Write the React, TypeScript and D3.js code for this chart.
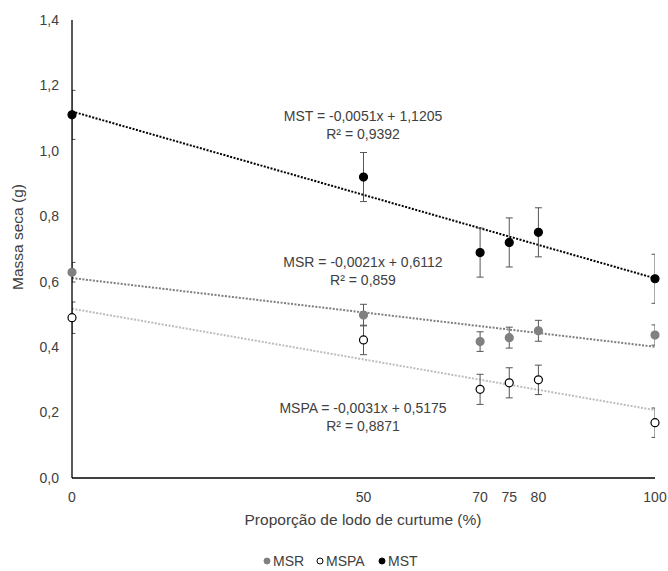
import * as d3 from "d3";

const doses = [0, 50, 70, 75, 80, 100];

const msr = [0.629, 0.498, 0.417, 0.429, 0.45, 0.437];
const msrErr = [0.03, 0.033, 0.03, 0.032, 0.032, 0.031];

const mspa = [0.49, 0.422, 0.271, 0.291, 0.3, 0.169];
const mspaErr = [0.048, 0.045, 0.046, 0.046, 0.045, 0.045];

const mst = [1.11, 0.92, 0.689, 0.72, 0.751, 0.609];
const mstErr = [0.075, 0.075, 0.075, 0.075, 0.075, 0.075];

const yTicks = [0, 0.2, 0.4, 0.6, 0.8, 1.0, 1.2, 1.4];

const series = [
  { name: "MSR", values: msr, err: msrErr, a: -0.0021, b: 0.6112, r2: "0,859", eq: "MSR = -0,0021x + 0,6112", fill: "#808080", stroke: "#808080", line: "#7f7f7f", labelY: 262 },
  { name: "MSPA", values: mspa, err: mspaErr, a: -0.0031, b: 0.5175, r2: "0,8871", eq: "MSPA = -0,0031x + 0,5175", fill: "#ffffff", stroke: "#000000", line: "#bdbdbd", labelY: 408 },
  { name: "MST", values: mst, err: mstErr, a: -0.0051, b: 1.1205, r2: "0,9392", eq: "MST = -0,0051x + 1,1205", fill: "#000000", stroke: "#000000", line: "#000000", labelY: 116 },
];

const width = 668;
const height = 571;
const fmt = (v: number) => d3.format(".1f")(v).replace(".", ",");

export default function App() {
  const x = d3.scaleLinear([0, 100], [72, 655]);
  const y = d3.scaleLinear([0, 1.4], [478, 20]);
  const line = d3.line<[number, number]>((d) => x(d[0]), (d) => y(d[1]));
  const txt = "#404040";
  const font = "'Liberation Sans', Arial, sans-serif";

  return (
    <svg width={width} height={height} style={{ position: "absolute", left: 0, top: 0 }} fontFamily={font}>
      <rect width={width} height={height} fill="#fff" />
      <defs>
        <clipPath id="plot">
          <rect x={x(0)} y={0} width={x(100) - x(0)} height={y(0)} />
        </clipPath>
      </defs>

      {/* trend lines */}
      {series.map((s) => (
        <path key={"t" + s.name}
          d={line([0, 100].map((v) => [v, s.a * v + s.b] as [number, number])) ?? ""}
          fill="none" stroke={s.line} strokeWidth={2} strokeDasharray="2,1.5" />
      ))}

      {/* error bars */}
      <g clipPath="url(#plot)" stroke="#555" strokeWidth={1}>
        {series.map((s) =>
          doses.map((d, i) => {
            const cx = x(d);
            const y1 = y(s.values[i] + s.err[i]);
            const y2 = y(s.values[i] - s.err[i]);
            return (
              <g key={s.name + i}>
                <line x1={cx} x2={cx} y1={y1} y2={y2} />
                <line x1={cx - 3.5} x2={cx + 3.5} y1={y1} y2={y1} />
                <line x1={cx - 3.5} x2={cx + 3.5} y1={y2} y2={y2} />
              </g>
            );
          })
        )}
      </g>

      {/* axes */}
      <line x1={x(0)} x2={x(0)} y1={y(1.4)} y2={y(0)} stroke="#000" strokeWidth={1.3} />
      <line x1={x(0)} x2={x(100)} y1={y(0)} y2={y(0)} stroke="#000" strokeWidth={1.3} />

      {/* points */}
      {series.map((s) =>
        doses.map((d, i) => (
          <circle key={"p" + s.name + i} cx={x(d)} cy={y(s.values[i])} r={4}
            fill={s.fill} stroke={s.stroke} strokeWidth={1.2} />
        ))
      )}

      {/* tick labels */}
      {yTicks.map((t) => (
        <text key={"y" + t} x={59} y={y(t)} dy="0.35em" textAnchor="end" fontSize={14} fill={txt}>{fmt(t)}</text>
      ))}
      {doses.map((d) => (
        <text key={"x" + d} x={x(d)} y={497} dy="0.35em" textAnchor="middle" fontSize={14} fill={txt}>{d}</text>
      ))}

      {/* axis titles */}
      <text x={363} y={520} dy="0.35em" textAnchor="middle" fontSize={15.5} fill={txt}>Proporção de lodo de curtume (%)</text>
      <text transform="translate(18,237) rotate(-90)" dy="0.35em" textAnchor="middle" fontSize={15.5} fill={txt}>Massa seca (g)</text>

      {/* equations */}
      {series.map((s) => (
        <g key={"e" + s.name}>
          <text x={363} y={s.labelY} dy="0.35em" textAnchor="middle" fontSize={14} fill={txt}>{s.eq}</text>
          <text x={363} y={s.labelY + 18} dy="0.35em" textAnchor="middle" fontSize={14} fill={txt}>R² = {s.r2}</text>
        </g>
      ))}

      {/* legend */}
      {[
        { s: series[0], cx: 267, tx: 273 },
        { s: series[1], cx: 320, tx: 326 },
        { s: series[2], cx: 382, tx: 388 },
      ].map(({ s, cx, tx }) => (
        <g key={"l" + s.name}>
          <circle cx={cx} cy={561} r={3} fill={s.fill} stroke={s.stroke} strokeWidth={1} />
          <text x={tx} y={561} dy="0.35em" fontSize={14} fill={txt}>{s.name}</text>
        </g>
      ))}
    </svg>
  );
}
